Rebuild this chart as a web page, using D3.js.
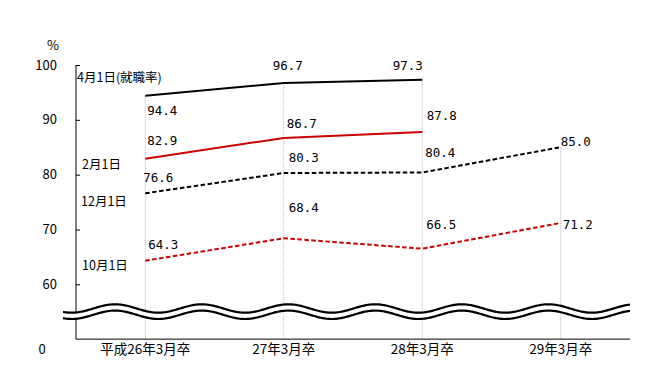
<!DOCTYPE html>
<html><head><meta charset="utf-8">
<script src="https://cdn.jsdelivr.net/npm/d3@7"></script>
<style>
html,body{margin:0;padding:0;background:#fff;}
svg{display:block;}
</style></head>
<body>
<svg id="chart" width="648" height="376"></svg>
<script>
// ---- data ----
const categories = ["平成26年3月卒", "27年3月卒", "28年3月卒", "29年3月卒"];
const seriesNames = ["4月1日(就職率)", "2月1日", "12月1日", "10月1日"];
const apr1 = [94.4, 96.7, 97.3, null];
const feb1 = [82.9, 86.7, 87.8, null];
const dec1 = [76.6, 80.3, 80.4, 85.0];
const oct1 = [64.3, 68.4, 66.5, 71.2];
const yTicks = [60, 70, 80, 90, 100];
const yBreakLabel = "0";
const yUnit = "%";

// ---- layout / style ----
const svg = d3.select("#chart");
const left = 76, right = 630;
const x = d3.scaleBand().domain(categories).range([left, right]);
const cx = c => x(c) + x.bandwidth() / 2;
const y = d3.scaleLinear().domain([60, 100]).range([284.3, 65]);
const yBottom = y(50);

const series = [
  {name: seriesNames[0], values: apr1, color: "#000", dash: null,
   offs: [[2, 14.3], [-11, -18], [-29.5, -14.8], null], lab: [77, 76]},
  {name: seriesNames[1], values: feb1, color: "#cc0000", dash: null,
   offs: [[2, -17.8], [3, -14], [4.5, -16], null], lab: [82, 163]},
  {name: seriesNames[2], values: dec1, color: "#000", dash: "4.5,2.5",
   offs: [[-2, -16], [5, -16], [3, -19.5], [0, -6]], lab: [81, 200]},
  {name: seriesNames[3], values: oct1, color: "#cc0000", dash: "4.5,2.5",
   offs: [[3, -16.7], [5, -31], [4, -23.7], [2, 1.4]], lab: [82, 264]},
];

// drop lines from max value at each category
const maxVals = categories.map((c, i) => d3.max(series, s => s.values[i]));
svg.append("g").selectAll("line").data(categories).join("line")
  .attr("x1", c => cx(c)).attr("x2", c => cx(c))
  .attr("y1", (c, i) => y(maxVals[i])).attr("y2", yBottom)
  .attr("stroke", "#b8b0c4").attr("stroke-width", 1).attr("stroke-dasharray", "1,1");

// y axis
const yAxis = d3.axisLeft(y).tickValues(yTicks).tickSizeInner(-4).tickSizeOuter(0).tickPadding(19);
const gy = svg.append("g").attr("transform", `translate(${left},0)`).call(yAxis);
gy.select(".domain").remove();
gy.selectAll("line").attr("stroke", "#000");
gy.selectAll("text").attr("font-family", "'Noto Sans CJK JP', sans-serif").attr("font-size", 13).attr("fill", "#000");
svg.append("line").attr("x1", left).attr("x2", left).attr("y1", y(100)).attr("y2", yBottom).attr("stroke", "#000");

// x axis
const xAxis = d3.axisBottom(x).tickSize(0).tickPadding(5);
const gx = svg.append("g").attr("transform", `translate(0,${yBottom})`).call(xAxis);
gx.select(".domain").remove();
gx.selectAll("text").attr("font-family", "'Noto Sans CJK JP', sans-serif").attr("font-size", 13.5).attr("fill", "#000");
svg.append("line").attr("x1", left).attr("x2", right).attr("y1", yBottom).attr("y2", yBottom).attr("stroke", "#000");

svg.append("text").attr("x", 42).attr("y", yBottom + 9).attr("text-anchor", "middle")
  .attr("dominant-baseline", "central").attr("font-family", "'Noto Sans CJK JP', sans-serif")
  .attr("font-size", 13).text(yBreakLabel);
svg.append("text").attr("x", 53).attr("y", 44).attr("text-anchor", "middle")
  .attr("dominant-baseline", "central").attr("font-family", "'Noto Sans CJK JP', sans-serif")
  .attr("font-size", 13).text(yUnit);

// break waves
const period = 86.7, amp = 4.2, phase0 = 115, waveX0 = 63, waveX1 = 630;
const wavePts = d3.range(waveX0, waveX1 + 0.5, 1);
const wy = (xx, c) => c - amp * Math.cos(2 * Math.PI * (xx - phase0) / period);
const upperC = 308.5, lowerC = 314.8;
const band = wavePts.map(xx => [xx, wy(xx, upperC)]).concat(wavePts.slice().reverse().map(xx => [xx, wy(xx, lowerC)]));
svg.append("path").attr("d", d3.line()(band) + "Z").attr("fill", "#fff");
[upperC, lowerC].forEach(c => {
  svg.append("path").attr("d", d3.line()(wavePts.map(xx => [xx, wy(xx, c)])))
    .attr("fill", "none").attr("stroke", "#000").attr("stroke-width", 2.2);
});

// lines
const line = d3.line().defined(d => d.v != null).x(d => cx(d.c)).y(d => y(d.v));
series.forEach(s => {
  const pts = categories.map((c, i) => ({c, v: s.values[i]}));
  svg.append("path").attr("d", line(pts)).attr("fill", "none")
    .attr("stroke", s.color).attr("stroke-width", 2)
    .attr("stroke-dasharray", s.dash);
  svg.append("g").selectAll("text").data(pts.filter(d => d.v != null)).join("text")
    .attr("x", d => cx(d.c) + s.offs[categories.indexOf(d.c)][0])
    .attr("y", d => y(d.v) + s.offs[categories.indexOf(d.c)][1])
    .attr("dominant-baseline", "central")
    .attr("font-family", "'DejaVu Sans Mono', monospace").attr("font-size", 12.5)
    .attr("fill", "#000").text(d => d.v.toFixed(1));
  svg.append("text").attr("x", s.lab[0]).attr("y", s.lab[1])
    .attr("dominant-baseline", "central")
    .attr("font-family", "'Noto Sans CJK JP', sans-serif").attr("font-size", 12.5)
    .attr("fill", "#000").text(s.name);
});
</script>
</body></html>
